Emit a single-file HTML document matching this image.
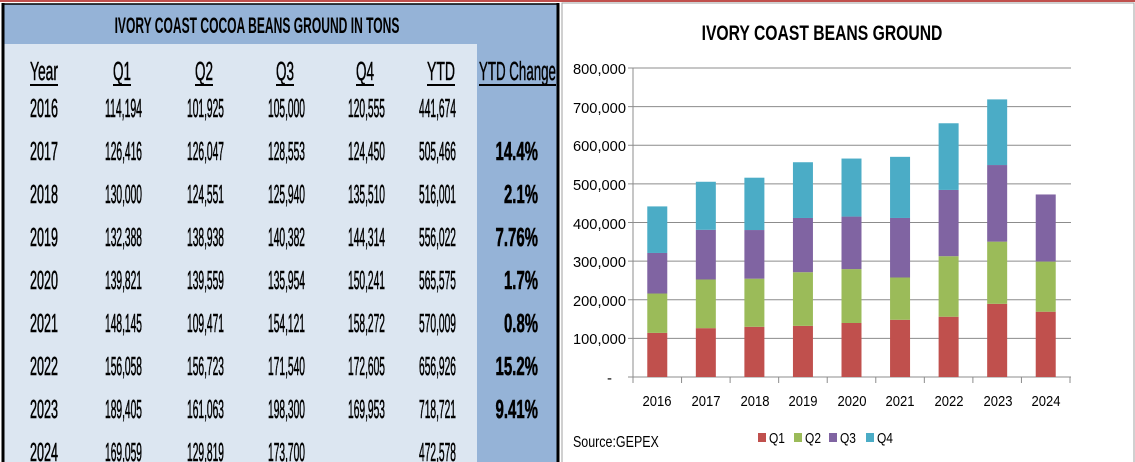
<!DOCTYPE html>
<html><head><meta charset="utf-8"><style>
html,body{margin:0;padding:0;background:#fff;}
svg{display:block;font-family:"Liberation Sans",sans-serif;}
</style></head><body>
<svg id="s" width="1135" height="462" viewBox="0 0 1135 462" xmlns="http://www.w3.org/2000/svg">
<rect x="0" y="0" width="1135" height="462" fill="#fff"/>
<line x1="0" y1="1" x2="1135" y2="1" stroke="#c0504d" stroke-width="2"/>
<rect x="3" y="4" width="554" height="458" fill="#dce6f1"/>
<rect x="3" y="4" width="554" height="40" fill="#95b3d7"/>
<rect x="477" y="44" width="80" height="418" fill="#95b3d7"/>
<line x1="3" y1="3" x2="3" y2="462" stroke="#000" stroke-width="3"/>
<line x1="558" y1="3" x2="558" y2="462" stroke="#000" stroke-width="3"/>
<line x1="2" y1="4" x2="559" y2="4" stroke="#000" stroke-width="1.5"/>
<text x="257" y="33" font-size="22" font-weight="bold" text-anchor="middle" textLength="285">IVORY COAST COCOA BEANS GROUND IN TONS</text>
<g font-size="26" stroke="#000" stroke-width="0.5">
<text x="30" y="80" textLength="28">Year</text>
<text x="113" y="80" textLength="18">Q1</text>
<text x="195" y="80" textLength="18">Q2</text>
<text x="276" y="80" textLength="18">Q3</text>
<text x="356" y="80" textLength="18">Q4</text>
<text x="427" y="80" textLength="28">YTD</text>
<text x="479" y="80" textLength="77">YTD Change</text>
</g>
<g stroke="#000" stroke-width="2">
<line x1="30" y1="85" x2="58" y2="85"/><line x1="113" y1="85" x2="131" y2="85"/>
<line x1="195" y1="85" x2="213" y2="85"/><line x1="276" y1="85" x2="294" y2="85"/>
<line x1="356" y1="85" x2="374" y2="85"/><line x1="427" y1="85" x2="455" y2="85"/>
<line x1="479" y1="85" x2="556" y2="85"/>
</g>
<g id="tb" font-size="26" stroke="#000" stroke-width="0.6"></g>
<rect x="562" y="3" width="572" height="462" fill="#fff" stroke="#a0a0a0" stroke-width="1"/>
<text x="822" y="40" font-size="21" font-weight="bold" text-anchor="middle" textLength="241">IVORY COAST BEANS GROUND</text>
<g id="grid" stroke="#8c8c8c" stroke-width="1"></g>
<g id="bars"></g>
<g font-size="15" text-anchor="end" fill="#000">
<text x="626" y="74" textLength="53">800,000</text><text x="626" y="113" textLength="53">700,000</text>
<text x="626" y="151" textLength="53">600,000</text><text x="626" y="190" textLength="53">500,000</text>
<text x="626" y="229" textLength="53">400,000</text><text x="626" y="267" textLength="53">300,000</text>
<text x="626" y="306" textLength="53">200,000</text><text x="626" y="344" textLength="53">100,000</text>
<text x="612" y="383">-</text>
</g>
<g font-size="15" text-anchor="middle">
<text x="657" y="406" textLength="29">2016</text><text x="706" y="406" textLength="29">2017</text><text x="755" y="406" textLength="29">2018</text>
<text x="803" y="406" textLength="29">2019</text><text x="852" y="406" textLength="29">2020</text><text x="900" y="406" textLength="29">2021</text>
<text x="949" y="406" textLength="29">2022</text><text x="998" y="406" textLength="29">2023</text><text x="1046" y="406" textLength="29">2024</text>
</g>
<text x="573" y="447" font-size="16" textLength="86">Source:GEPEX</text>
<g font-size="15">
<rect x="758" y="433" width="8" height="9" fill="#c0504d"/><text x="769" y="443" textLength="16">Q1</text>
<rect x="794" y="433" width="8" height="9" fill="#9bbb59"/><text x="805" y="443" textLength="16">Q2</text>
<rect x="829" y="433" width="8" height="9" fill="#8064a2"/><text x="840" y="443" textLength="16">Q3</text>
<rect x="866" y="433" width="8" height="9" fill="#4bacc6"/><text x="877" y="443" textLength="16">Q4</text>
</g>
</svg>
<script>
var NS="http://www.w3.org/2000/svg";
function el(p,t,a,txt){var e=document.createElementNS(NS,t);for(var k in a)e.setAttribute(k,a[k]);if(txt!=null)e.textContent=txt;p.appendChild(e);return e;}
var D=[[2016,"114,194","101,925","105,000","120,555","441,674",""],[2017,"126,416","126,047","128,553","124,450","505,466","14.4%"],
[2018,"130,000","124,551","125,940","135,510","516,001","2.1%"],[2019,"132,388","138,938","140,382","144,314","556,022","7.76%"],
[2020,"139,821","139,559","135,954","150,241","565,575","1.7%"],[2021,"148,145","109,471","154,121","158,272","570,009","0.8%"],
[2022,"156,058","156,723","171,540","172,605","656,926","15.2%"],[2023,"189,405","161,063","198,300","169,953","718,721","9.41%"],
[2024,"169,059","129,819","173,700","","472,578",""]];
var tb=document.getElementById("tb");var rx=[142,224,305,385,456];
D.forEach(function(r,i){var y=117+i*43;
 el(tb,"text",{x:30,y:y,textLength:28},String(r[0]));
 for(var j=1;j<=5;j++){if(!r[j])continue;
  el(tb,"text",{x:rx[j-1],y:y,"text-anchor":"end",textLength:37},r[j]);}
 if(r[6]){var w=r[6].length*8.5;el(tb,"text",{x:538,y:y,"text-anchor":"end","font-weight":"bold",textLength:w},r[6]);}
});
var g=document.getElementById("grid");var y0=377,k=309/800000,x0=633,cw=437/9;
for(var i=0;i<=8;i++){var y=y0-i*100000*k;el(g,"line",{x1:628,y1:y,x2:1071,y2:y});}
el(g,"line",{x1:x0,y1:68,x2:x0,y2:y0});
for(var i=0;i<=9;i++){var x=x0+i*cw;el(g,"line",{x1:x,y1:y0,x2:x,y2:y0+6});}
var b=document.getElementById("bars");var C=["#c0504d","#9bbb59","#8064a2","#4bacc6"];
D.forEach(function(r,i){var cx=x0+cw*(i+0.5);var top=y0;
 for(var j=1;j<=4;j++){var v=r[j]?parseInt(r[j].replace(/,/g,"")):0;var h=v*k;if(!h)continue;top-=h;el(b,"rect",{x:cx-10,y:top,width:20,height:h,fill:C[j-1]});}
});
var ts=document.querySelectorAll("text[textLength]");
for(var i=0;i<ts.length;i++){var t=ts[i];var L=parseFloat(t.getAttribute("textLength"));t.removeAttribute("textLength");
 var w=t.getComputedTextLength();if(w>0){var s=L/w;var x=parseFloat(t.getAttribute("x"));
 t.setAttribute("transform","translate("+x+",0) scale("+s+",1) translate("+(-x)+",0)");}}
</script>
</body></html>
